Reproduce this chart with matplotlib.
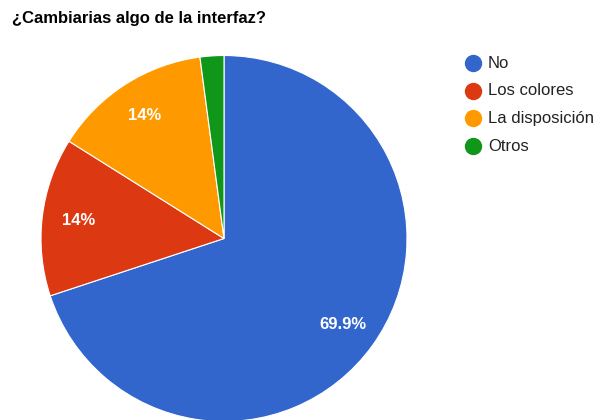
import matplotlib
matplotlib.use("Agg")
import matplotlib.pyplot as plt
from matplotlib.lines import Line2D

# Survey answers (counts); 100/143 = 69.9 %
LABELS = ["No", "Los colores", "La disposición", "Otros"]
COUNTS = [100, 20, 20, 3]
COLORS = ["#3366cc", "#dc3912", "#ff9900", "#109618"]
TITLE = "¿Cambiarias algo de la interfaz?"

W, H = 595, 420
plt.rcParams["font.family"] = ["Liberation Sans", "DejaVu Sans"]

fig = plt.figure(figsize=(W / 100, H / 100), dpi=100)

cx, cy, r = 224, 238.5, 183
ax = fig.add_axes([(cx - r) / W, (H - cy - r) / H, 2 * r / W, 2 * r / H])


def pct(p):
    if p < 5:
        return ""
    s = f"{p:.1f}"
    if s.endswith(".0"):
        s = s[:-2]
    return s + "%"


wedges, _, autotexts = ax.pie(
    COUNTS, colors=COLORS, startangle=90, counterclock=False,
    autopct=pct, pctdistance=0.8, radius=1.0,
    wedgeprops=dict(edgecolor="white", linewidth=0.8),
    textprops=dict(color="white", fontsize=12, fontweight="bold"),
)
ax.set_xlim(-1, 1)
ax.set_ylim(-1, 1)
ax.set_aspect("equal")
ax.axis("off")

fig.text(12 / W, 1 - 19 / H, TITLE, fontsize=12, fontweight="bold",
         color="#000000", ha="left", va="center")

# legend, drawn row by row
lx, ly0, dy = 473, 63, 27.7
for i, (lab, col) in enumerate(zip(LABELS, COLORS)):
    y = 1 - (ly0 + i * dy) / H
    fig.add_artist(Line2D([lx / W], [y], marker="o", markersize=11.5,
                          color=col, markeredgecolor=col,
                          transform=fig.transFigure))
    fig.text((lx + 15) / W, y, lab, fontsize=12, color="#222222",
             ha="left", va="center")

fig.savefig("out.png", dpi=100, facecolor="white")
